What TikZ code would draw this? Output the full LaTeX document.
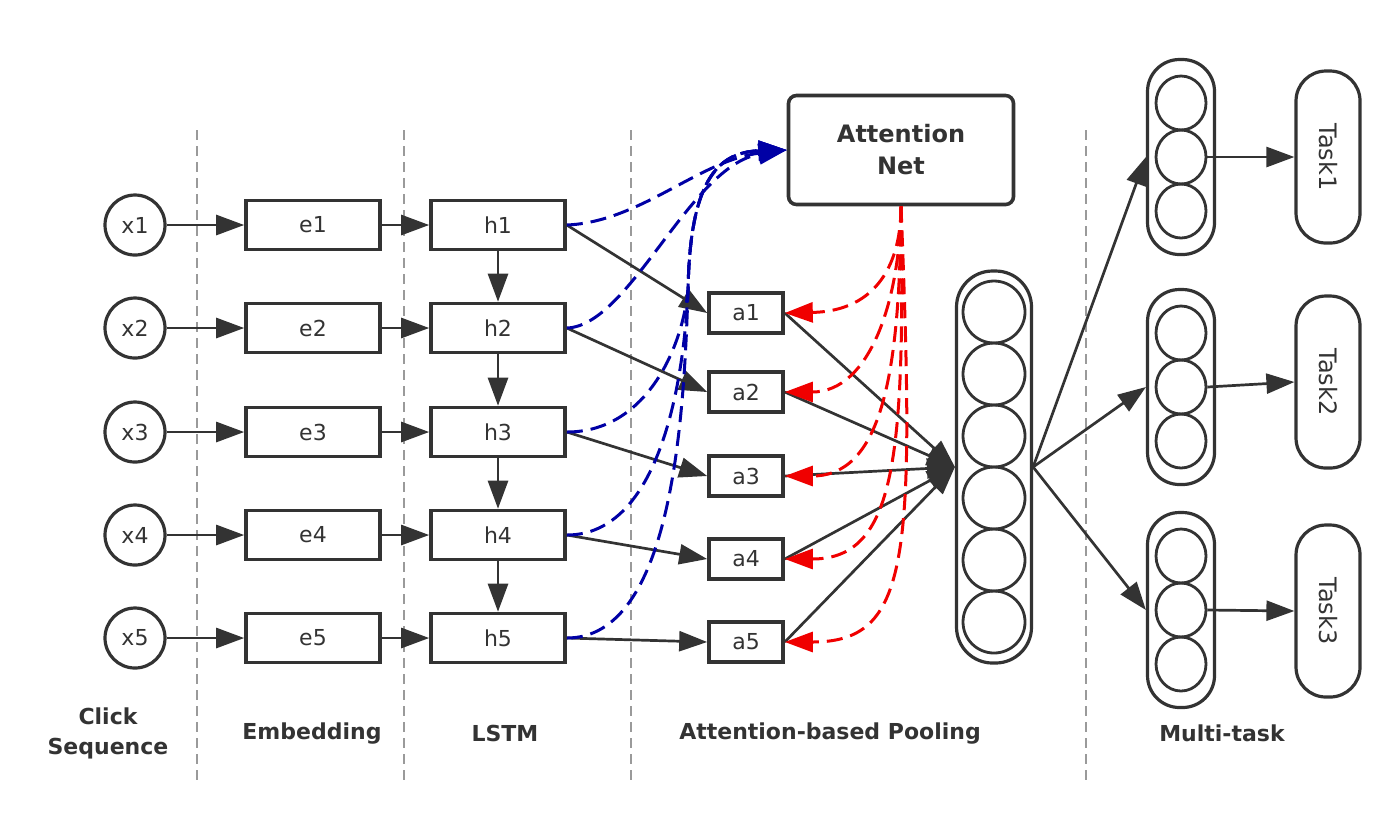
\documentclass[tikz,border=0pt]{standalone}
\usepackage{fontspec}
\setmainfont{DejaVu Sans}
\usetikzlibrary{arrows.meta,shapes.geometric,calc}
\definecolor{ink}{HTML}{333333}
\definecolor{navy}{RGB}{0,0,165}
\definecolor{redd}{RGB}{240,0,0}
\definecolor{sep}{HTML}{9A9A9A}
\begin{document}
\begin{tikzpicture}[x=0.5pt,y=-0.5pt,
  tip/.style={-{Triangle[length=14pt,width=10pt]}},
  lbl/.style={font=\fontsize{11}{13}\selectfont, text=ink},
  inp/.style={circle,draw=ink,line width=1.6pt,minimum size=30pt,inner sep=0pt,lbl},
  rbox/.style={rectangle,draw=ink,line width=1.8pt,minimum width=67pt,minimum height=24.5pt,inner sep=0pt,lbl},
  abox/.style={rectangle,draw=ink,line width=1.8pt,minimum width=37pt,minimum height=20pt,inner sep=0pt,lbl},
  conn/.style={draw=ink,line width=1.35pt,tip},
  blued/.style={draw=navy,line width=1.5pt,dash pattern=on 8pt off 4pt,tip},
  redd/.style={draw=redd,line width=1.5pt,dash pattern=on 8pt off 4pt,tip},
  sepline/.style={draw=sep,line width=1.2pt,dash pattern=on 5pt off 3pt},
  layerlbl/.style={font=\bfseries\fontsize{11}{15}\selectfont,text=ink,align=center},
  bigcol/.style={rectangle,rounded corners=18pt,draw=ink,line width=1.6pt,minimum width=37.5pt,minimum height=196pt,inner sep=0pt},
  bigcirc/.style={circle,draw=ink,line width=1.4pt,minimum size=31pt,inner sep=0pt},
  smallcol/.style={rectangle,rounded corners=16pt,draw=ink,line width=1.6pt,minimum width=33.5pt,minimum height=97.5pt,inner sep=0pt},
  smallcirc/.style={ellipse,draw=ink,line width=1.4pt,minimum width=25pt,minimum height=27pt,inner sep=0pt},
  taskbox/.style={rectangle,rounded corners=15pt,draw=ink,line width=1.6pt,minimum width=32pt,minimum height=86pt,inner sep=0pt},
]
\useasboundingbox (0,0) rectangle (1400,827);

% separators
\foreach \sx/\nm in {197/s1,404/s2,631/s3,1086/s4}{
  \coordinate (\nm t) at (\sx,130);
  \coordinate (\nm b) at (\sx,780);
  \draw[sepline] (\nm t) -- (\nm b);
}

% rows
\foreach \i/\y in {1/225,2/328,3/432,4/535,5/638}{
  \node[inp] (x\i) at (135,\y) {x\i};
  \node[rbox] (e\i) at (313,\y) {e\i};
  \node[rbox] (h\i) at (498,\y) {h\i};
  \draw[conn] (x\i) -- (e\i);
  \draw[conn] (e\i) -- (h\i);
}
\foreach \i/\j in {1/2,2/3,3/4,4/5}{
  \draw[conn] (h\i) -- (h\j);
}

% attention boxes
\node[abox] (a1) at (746,313) {a1};
\node[abox] (a2) at (746,392) {a2};
\node[abox] (a3) at (746,476) {a3};
\node[abox] (a4) at (746,559) {a4};
\node[abox] (a5) at (746,642) {a5};

\foreach \i in {1,...,5}{
  \draw[conn] (h\i.east) -- (a\i.west);
}

% attention net
\node[rectangle,rounded corners=4pt,draw=ink,line width=1.8pt,minimum width=112.5pt,minimum height=54.5pt,
      align=center,font=\bfseries\fontsize{12}{16}\selectfont,text=ink] (attn) at (901,150) {Attention\\Net};

% big column
\node[bigcol] (col) at (994,467) {};
\foreach \k/\cy in {1/312,2/374,3/436,4/498,5/560,6/622}{
  \node[bigcirc] (bc\k) at (994,\cy) {};
}

\foreach \i in {1,...,5}{
  \draw[conn] (a\i.east) -- (col.west);
}

% blue dashed curves
\coordinate (bund) at (688,290);
\draw[blued] (h1.east) .. controls (640,222) and (700,160) .. (attn.west);
\draw[blued] (h2.east) .. controls (630,326) and (690,165) .. (attn.west);
\draw[blued] (h3.east) .. controls (645,432) and (682,350) .. (bund) .. controls (690,185) and (715,152) .. (attn.west);
\draw[blued] (h4.east) .. controls (660,535) and (684,380) .. (bund) .. controls (690,185) and (715,152) .. (attn.west);
\draw[blued] (h5.east) .. controls (672,638) and (684,420) .. (bund) .. controls (690,185) and (715,152) .. (attn.west);

% red dashed curves
\draw[redd] (attn.south) .. controls (901,262) and (878,311) .. (a1.east);
\draw[redd] (attn.south) .. controls (900,300) and (870,392) .. (a2.east);
\draw[redd] (attn.south) .. controls (900,380) and (880,476) .. (a3.east);
\draw[redd] (attn.south) .. controls (905,460) and (895,559) .. (a4.east);
\draw[redd] (attn.south) .. controls (915,560) and (910,642) .. (a5.east);

% task columns
\foreach \t/\cy/\ty in {1/157/157,2/387/382,3/610/611}{
  \node[smallcol] (c\t) at (1181,\cy) {};
  \node[smallcirc] (c\t a) at (1181,\cy-54) {};
  \node[smallcirc] (c\t b) at (1181,\cy) {};
  \node[smallcirc] (c\t c) at (1181,\cy+54) {};
  \node[taskbox] (t\t) at (1328,\ty) {};
  \node[rotate=-90,font=\fontsize{12}{14}\selectfont,text=ink] (tl\t) at (t\t.center) {Task\t};
  \draw[conn] (col.east) -- (c\t.west);
  \draw[conn] (c\t b.east) -- (t\t.west);
}

% layer labels
\node[layerlbl] (L1) at (108,733) {Click\\Sequence};
\node[layerlbl] (L2) at (312,733) {Embedding};
\node[layerlbl] (L3) at (505,733) {LSTM};
\node[layerlbl] (L4) at (830,733) {Attention-based Pooling};
\node[layerlbl] (L5) at (1222,733) {Multi-task};
\end{tikzpicture}
\end{document}
